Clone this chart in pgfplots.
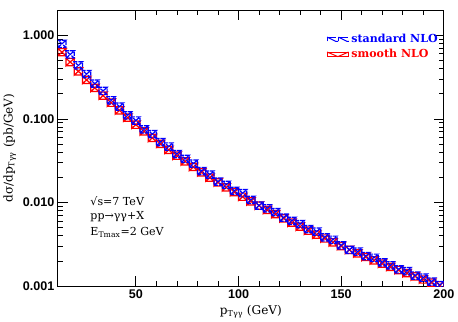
\documentclass[border=0pt]{standalone}
\usepackage{fontspec}
\setmainfont{DejaVu Serif}
\setsansfont{Liberation Sans}
\usepackage{pgfplots}
\usepackage{pgfplotstable}
\pgfplotsset{compat=1.18}

% smooth NLO (red): bin centre, central value
\pgfplotstableread{
x y
14 0.631
18 0.481
22 0.372
26 0.294
30 0.236
34 0.191
38 0.157
42 0.127
46 0.104
50 0.0857
54 0.0713
58 0.0596
62 0.0506
66 0.0429
70 0.0365
74 0.0312
78 0.0268
82 0.0231
86 0.0200
90 0.0175
94 0.0153
98 0.0134
102 0.0118
106 0.0104
110 0.00925
114 0.00820
118 0.00730
122 0.00650
126 0.00579
130 0.00518
134 0.00463
138 0.00416
142 0.00374
146 0.00337
150 0.00303
154 0.00274
158 0.00248
162 0.00225
166 0.00205
170 0.00187
174 0.00171
178 0.00157
182 0.00144
186 0.00132
190 0.00121
194 0.00111
198 0.00103
}\redtab

% standard NLO (blue)
\pgfplotstableread{
x y
14 0.794
18 0.592
22 0.438
26 0.345
30 0.265
34 0.217
38 0.168
42 0.141
46 0.111
50 0.0962
54 0.0755
58 0.0661
62 0.0530
66 0.0470
70 0.0382
74 0.0334
78 0.0294
82 0.0239
86 0.0217
90 0.0179
94 0.0164
98 0.0139
102 0.0130
106 0.0108
110 0.00925
114 0.00859
118 0.00773
122 0.00665
126 0.00607
130 0.00555
134 0.00485
138 0.00451
142 0.00387
146 0.00361
150 0.00310
154 0.00274
158 0.00260
162 0.00231
166 0.00220
170 0.00194
174 0.00179
178 0.00160
182 0.00152
186 0.00135
190 0.00127
194 0.00114
198 0.00104
}\bluetab

\newcommand\drawboxes[3]{%
  \pgfplotstablegetrowsof{#1}%
  \pgfmathtruncatemacro{\nrows}{\pgfplotsretval-1}%
  \pgfplotsforeachungrouped \i in {0,...,\nrows}{%
    \pgfplotstablegetelem{\i}{x}\of#1\let\xc\pgfplotsretval
    \pgfplotstablegetelem{\i}{y}\of#1\let\yc\pgfplotsretval
    \pgfkeys{/pgf/fpu=true,/pgf/fpu/output format=sci}%
    \pgfmathparse{\xc-2}\let\xl\pgfmathresult
    \pgfmathparse{\xc+2}\let\xh\pgfmathresult
    \pgfmathparse{\yc*(1-#3)}\let\lo\pgfmathresult
    \pgfmathparse{\yc*(1+#3)}\let\hi\pgfmathresult
    \pgfkeys{/pgf/fpu=false}%
    \edef\cmd{\noexpand\addplot[#2] coordinates {(\xl,\lo) (\xh,\lo) (\xh,\hi) (\xl,\hi) (\xl,\lo) (\xh,\hi) (\xl,\hi) (\xh,\lo)};}%
    \cmd
  }%
}

\begin{document}
\begin{tikzpicture}
\begin{axis}[
  scale only axis,
  width=383bp, height=274bp,
  ymode=log,
  xmin=12, xmax=200,
  ymin=0.001, ymax=2,
  xtick={50,100,150,200},
  xticklabels={50,100,150,200},
  minor x tick num=4,
  ytick={0.001,0.01,0.1,1},
  yticklabels={0.001,0.010,0.100,1.000},
  tick align=inside,
  ticks=both,
  major tick length=10bp,
  minor tick length=5bp,
  tick style={black, line width=0.8pt},
  axis line style={line width=1pt},
  ticklabel style={font=\sffamily\bfseries\fontsize{12.5}{14}\selectfont},
  xlabel={p\textsubscript{Tγγ} (GeV)},
  ylabel={dσ/dp\textsubscript{Tγγ} (pb/GeV)},
  label style={font=\fontsize{12}{14}\selectfont},
  legend style={at={(1,1)}, anchor=north east, xshift=-1bp, yshift=-20bp,
    draw=none, fill=none, font=\bfseries\fontsize{11}{13}\selectfont, row sep=1pt},
  legend cell align=left,
  clip=true,
]
\drawboxes{\redtab}{red, line width=1.2pt, forget plot}{0.10}
\drawboxes{\bluetab}{blue, line width=1.2pt, dash pattern=on 4pt off 1.2pt, forget plot}{0.10}

\addlegendimage{legend image code/.code={
  \draw[blue, line width=1pt] (0cm,-0.07cm) -- (0cm,0.08cm) -- (0.3cm,0.08cm);
  \draw[blue, line width=1pt] (0cm,0.08cm) -- (0.3cm,-0.07cm) -- (0.38cm,-0.07cm);
  \draw[blue, line width=1pt] (0.4cm,-0.07cm) -- (0.4cm,0.08cm) -- (0.72cm,0.08cm);
  \draw[blue, line width=1pt] (0.4cm,0.08cm) -- (0.7cm,-0.07cm) -- (0.76cm,-0.07cm);
}}
\addlegendentry{\textcolor{blue}{standard NLO}}
\addlegendimage{legend image code/.code={
  \draw[red, line width=1pt] (0cm,-0.08cm) rectangle (0.75cm,0.08cm);
  \draw[red, line width=1pt] (0cm,0.08cm) -- (0.375cm,-0.08cm) -- (0.75cm,0.08cm);
}}
\addlegendentry{\textcolor{red}{smooth NLO}}

\node[anchor=north west, align=left, inner sep=0pt, font=\fontsize{11}{14}\selectfont]
  at (rel axis cs:0.084,0.325) {√s=7 TeV\\pp→γγ+X\\[2pt]E\textsubscript{Tmax}=2 GeV};
\end{axis}
\path (current axis.north east) ++(14bp,10bp);
\end{tikzpicture}
\end{document}
